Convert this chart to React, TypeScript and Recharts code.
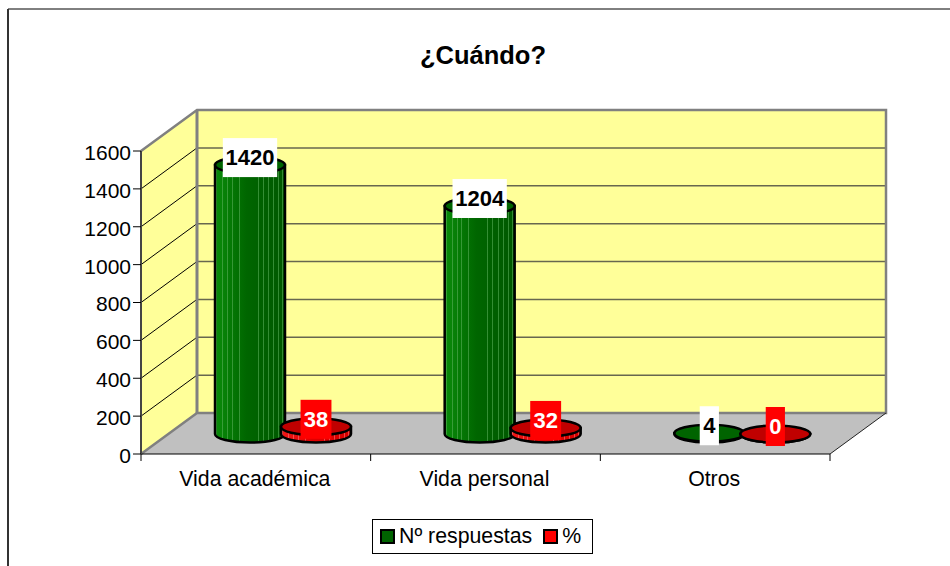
import { BarChart, Bar, XAxis, YAxis, Legend, LabelList, Customized } from "recharts";

const categorias = ["Vida académica", "Vida personal", "Otros"];
const respuestas = [1420, 1204, 4];
const porcentajes = [38, 32, 0];
const yTicks = [0, 200, 400, 600, 800, 1000, 1200, 1400, 1600];

const datos = categorias.map((categoria, i) => ({
  categoria,
  respuestas: respuestas[i],
  porcentaje: porcentajes[i],
}));

const FONT = '"Liberation Sans", Arial, sans-serif';
const PLOT = { left: 141, top: 151, width: 689, height: 303 };
const DEPTH = { x: 56, y: 41 };
const RY = 8.5;
const rayas = [2, 10, 17, 24, 34, 61, 68, 76, 83, 90, 96];

// cylinder shading: smooth base with thin lighter stripes on top
const stripes = (izq: string, centro: string, der: string, raya: string, id: string) => (
  <>
    <linearGradient id={id} x1="0" x2="1" y1="0" y2="0">
      <stop offset="0%" stopColor={izq} />
      <stop offset="45%" stopColor={centro} />
      <stop offset="100%" stopColor={der} />
    </linearGradient>
    <linearGradient id={`${id}Raya`} x1="0" x2="1" y1="0" y2="0">
      {rayas.flatMap((r) => [
        <stop key={`${r}a`} offset={`${r}%`} stopColor={raya} stopOpacity={0} />,
        <stop key={`${r}b`} offset={`${r}%`} stopColor={raya} stopOpacity={0.55} />,
        <stop key={`${r}c`} offset={`${r + 1.4}%`} stopColor={raya} stopOpacity={0.55} />,
        <stop key={`${r}d`} offset={`${r + 1.4}%`} stopColor={raya} stopOpacity={0} />,
      ])}
    </linearGradient>
  </>
);

function Escenario() {
  const { left, top, width, height } = PLOT;
  const right = left + width;
  const bottom = top + height;
  const toY = (v: number) => bottom - (v / 1600) * height;

  return (
    <g>
      <defs>
        {stripes("#0a8c0a", "#006600", "#005800", "#5fb35f", "cilVerde")}
        {stripes("#f01818", "#e00000", "#d80000", "#ff8080", "cilRojo")}
      </defs>

      {/* chart frame, runs off the page on the right and bottom */}
      <line x1={8} y1={9} x2={950} y2={9} stroke="#000" strokeWidth={1} />
      <line x1={8} y1={9} x2={8} y2={566} stroke="#333" strokeWidth={2} />

      <text x={483} y={64} textAnchor="middle" fontFamily={FONT} fontWeight="bold" fontSize={25.5}>
        ¿Cuándo?
      </text>

      {/* walls and floor */}
      <polygon
        points={`${left},${top} ${left + DEPTH.x},${top - DEPTH.y} ${left + DEPTH.x},${bottom - DEPTH.y} ${left},${bottom}`}
        fill="#FFFF99"
      />
      <polygon
        points={`${left + DEPTH.x},${top - DEPTH.y} ${right + DEPTH.x},${top - DEPTH.y} ${right + DEPTH.x},${bottom - DEPTH.y} ${left + DEPTH.x},${bottom - DEPTH.y}`}
        fill="#FFFF99"
      />
      <polygon
        points={`${left},${bottom} ${right},${bottom} ${right + DEPTH.x},${bottom - DEPTH.y} ${left + DEPTH.x},${bottom - DEPTH.y}`}
        fill="#C0C0C0"
      />

      {yTicks.slice(1, -1).map((t) => (
        <line
          key={t}
          x1={left + DEPTH.x}
          x2={right + DEPTH.x}
          y1={toY(t) - DEPTH.y}
          y2={toY(t) - DEPTH.y}
          stroke="#67674f"
          strokeWidth={1.5}
        />
      ))}
      {yTicks.slice(1, -1).map((t) => (
        <line
          key={t}
          x1={left}
          x2={left + DEPTH.x}
          y1={toY(t)}
          y2={toY(t) - DEPTH.y}
          stroke="#000"
          strokeWidth={1}
        />
      ))}

      <polyline
        points={`${left},${top} ${left + DEPTH.x},${top - DEPTH.y} ${right + DEPTH.x},${top - DEPTH.y} ${right + DEPTH.x},${bottom - DEPTH.y} ${left + DEPTH.x},${bottom - DEPTH.y} ${left},${bottom}`}
        fill="none"
        stroke="#808080"
        strokeWidth={2.5}
      />
      <line
        x1={left + DEPTH.x}
        y1={top - DEPTH.y}
        x2={left + DEPTH.x}
        y2={bottom - DEPTH.y}
        stroke="#808080"
        strokeWidth={3}
      />
      <line x1={right} y1={bottom} x2={right + DEPTH.x} y2={bottom - DEPTH.y} stroke="#222" strokeWidth={1} />

      {/* category separators on the x axis */}
      {[0, 1, 2, 3].map((i) => (
        <line
          key={i}
          x1={left + (i * width) / categorias.length}
          x2={left + (i * width) / categorias.length}
          y1={bottom}
          y2={bottom + 7}
          stroke="#000"
        />
      ))}
    </g>
  );
}

function Cilindro(props: any) {
  const { x, y, width, height, fill, tope, cuerpo } = props;
  const cx = x + width / 2 + DEPTH.x / 2 - 1;
  const rx = width / 2;
  const top = y - DEPTH.y / 2 + 0.5;
  const base = top + height;
  const d = `M${cx - rx},${top} L${cx - rx},${base} A${rx},${RY} 0 0 0 ${cx + rx},${base} L${cx + rx},${top} Z`;
  return (
    <g>
      <path d={d} fill={`url(#${cuerpo})`} />
      <path d={d} fill={`url(#${cuerpo}Raya)`} stroke="#000" strokeWidth={2.5} />
      <ellipse cx={cx} cy={top} rx={rx} ry={RY} fill={tope ?? fill} stroke="#000" strokeWidth={2.5} />
    </g>
  );
}

function Etiqueta(props: any) {
  const { x, y, width, value, fondo, color } = props;
  const cx = x + width / 2 + DEPTH.x / 2 - 1;
  const cy = y - DEPTH.y / 2 + 0.5 - 7.5;
  const w = String(value).length * 11.7 + 7.5;
  return (
    <g>
      <rect x={cx - w / 2} y={cy - 19.5} width={w} height={39} fill={fondo} />
      <text
        x={cx}
        y={cy + 7.5}
        textAnchor="middle"
        fontFamily={FONT}
        fontWeight="bold"
        fontSize={22}
        fill={color}
      >
        {value}
      </text>
    </g>
  );
}

function Leyenda({ payload }: any) {
  return (
    <div
      style={{
        boxSizing: "border-box",
        width: 221,
        height: 35,
        border: "1px solid #000",
        background: "#fff",
        display: "flex",
        alignItems: "center",
        paddingLeft: 7,
        fontFamily: FONT,
        fontSize: 21.3,
        color: "#000",
        whiteSpace: "nowrap",
      }}
    >
      {(payload ?? []).map((p: any) => (
        <span key={p.value} style={{ display: "flex", alignItems: "center", marginRight: 11 }}>
          <span
            style={{
              boxSizing: "border-box",
              width: 15,
              height: 15,
              background: p.color,
              border: "2px solid #000",
              marginRight: 4,
            }}
          />
          {p.value}
        </span>
      ))}
    </div>
  );
}

export default function App() {
  return (
    <div style={{ position: "absolute", left: 0, top: 0, width: 950, height: 566, background: "#fff", overflow: "hidden" }}>
      <BarChart
        width={950}
        height={566}
        data={datos}
        barSize={70}
        barGap={-4}
        margin={{
          left: PLOT.left - 60,
          top: PLOT.top,
          right: 950 - PLOT.left - PLOT.width,
          bottom: 566 - PLOT.top - PLOT.height - 40,
        }}
      >
        <Customized component={Escenario} />
        <XAxis
          dataKey="categoria"
          height={40}
          tickLine={false}
          axisLine={{ stroke: "#000" }}
          tick={{ fontFamily: FONT, fontSize: 21.3, fill: "#000", dx: -1, dy: 1 }}
          tickMargin={10}
          interval={0}
        />
        <YAxis
          width={60}
          domain={[0, 1600]}
          ticks={yTicks}
          interval={0}
          tickSize={8}
          tickMargin={2}
          axisLine={{ stroke: "#444", strokeWidth: 2 }}
          tickLine={{ stroke: "#000" }}
          tick={{ fontFamily: FONT, fontSize: 21, fill: "#000", dy: 1.5 }}
        />
        <Legend
          layout="horizontal"
          verticalAlign="middle"
          align="center"
          itemSorter={null}
          content={<Leyenda />}
          wrapperStyle={{ left: 372, top: 519, width: 221, height: 35 }}
        />
        <Bar
          dataKey="respuestas"
          name="Nº respuestas"
          fill="#006400"
          isAnimationActive={false}
          shape={(p: any) => <Cilindro {...p} cuerpo="cilVerde" tope="#006400" />}
        >
          <LabelList dataKey="respuestas" content={(p: any) => <Etiqueta {...p} fondo="#fff" color="#000" />} />
        </Bar>
        <Bar
          dataKey="porcentaje"
          name="%"
          fill="#FF0000"
          isAnimationActive={false}
          shape={(p: any) => <Cilindro {...p} cuerpo="cilRojo" tope="#C00000" />}
        >
          <LabelList dataKey="porcentaje" content={(p: any) => <Etiqueta {...p} fondo="#FF0000" color="#fff" />} />
        </Bar>
      </BarChart>
    </div>
  );
}
